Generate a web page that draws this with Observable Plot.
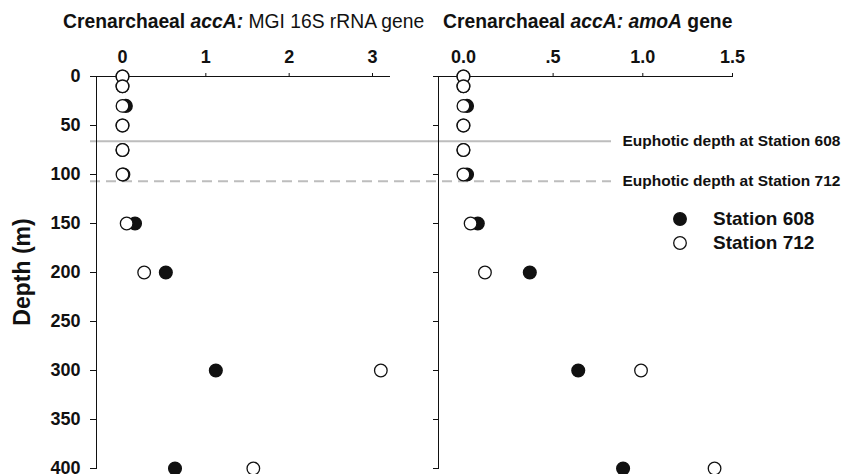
<!DOCTYPE html>
<html>
<head>
<meta charset="utf-8">
<script src="https://cdn.jsdelivr.net/npm/d3@7"></script>
<script src="https://cdn.jsdelivr.net/npm/@observablehq/plot@0.6"></script>
<style>
  body { margin: 0; background: white; font-family: "Liberation Sans", Arial, sans-serif; }
  #wrap { position: relative; width: 847px; height: 474px; overflow: hidden; }
  #wrap svg { position: absolute; left: 0; top: 0; }
  .title { position: absolute; top: 11px; font-size: 19.3px; font-weight: bold; color: #111; white-space: nowrap; }
  .title i { font-style: italic; }
  .ylab { position: absolute; left: 22px; top: 272px; transform: translate(-50%, -50%) rotate(-90deg); font-size: 23px; font-weight: bold; color: #111; white-space: nowrap; }
  .leg { position: absolute; font-size: 19px; font-weight: bold; color: #111; white-space: nowrap; }
</style>
</head>
<body>
<div id="wrap">
  <div class="title" style="left:63px">Crenarchaeal <i>accA:</i> <span style="font-weight:normal">MGI 16S rRNA gene</span></div>
  <div class="title" style="left:443px">Crenarchaeal <i>accA: amoA</i> gene</div>
  <div class="ylab">Depth (m)</div>
</div>
<script>
// ---- data ----
const depths = [0, 10, 30, 50, 75, 100, 150, 200, 300, 400];
const mgi608 = [0, 0, 0.04, 0, 0, 0.01, 0.15, 0.52, 1.12, 0.63];
const mgi712 = [0, 0, 0, 0, 0, 0, 0.05, 0.26, 3.10, 1.57];
const amoA608 = [0, 0, 0.02, 0, 0, 0.02, 0.08, 0.37, 0.64, 0.89];
const amoA712 = [0, 0, 0, 0, 0, 0, 0.04, 0.12, 0.99, 1.40];
const euphoticDepths = [66, 107];
const euphoticLabels = ["Euphotic depth at Station 608", "Euphotic depth at Station 712"];
const stations = ["Station 608", "Station 712"];
const depthTicks = [0, 50, 100, 150, 200, 250, 300, 350, 400];
const mgiTicks = [0, 1, 2, 3];
const amoATicks = [0, 0.5, 1.0, 1.5];

const rows = (vals) => depths.map((d, i) => ({depth: d, value: vals[i]}));
const ink = "#111";
const baseStyle = {background: "transparent", fontFamily: "'Liberation Sans', Arial, sans-serif", fontSize: "18px", fontWeight: "bold", color: ink, overflow: "visible"};
const wrap = document.getElementById("wrap");

const yScale = (showLabels) => ({domain: [0, 400], reverse: true, ticks: depthTicks, tickSize: showLabels ? 6 : 5, tickPadding: 10, line: true, label: null, tickFormat: showLabels ? d => d : () => ""});

const dotsFor = (filled, open) => [
  Plot.dot(rows(filled), {x: "value", y: "depth", r: 6.3, fill: ink, stroke: ink}),
  Plot.dot(rows(open), {x: "value", y: "depth", r: 6.3, fill: "white", stroke: ink, strokeWidth: 1.3})
];

// left panel
const left = Plot.plot({
  width: 847, height: 474,
  marginLeft: 96, marginRight: 458, marginTop: 76, marginBottom: 6,
  style: baseStyle,
  x: {domain: [-0.312, 3.204], axis: "top", ticks: mgiTicks, tickSize: 4, tickPadding: 10, line: true, label: null, tickFormat: d => d},
  y: yScale(true),
  marks: dotsFor(mgi608, mgi712)
});

// right panel
const right = Plot.plot({
  width: 847, height: 474,
  marginLeft: 438, marginRight: 115, marginTop: 76, marginBottom: 6,
  style: baseStyle,
  x: {domain: [-0.139, 1.5], axis: "top", ticks: amoATicks, tickSize: 4, tickPadding: 10, line: true, label: null, tickFormat: d => d === 0.5 ? ".5" : d.toFixed(1)},
  y: yScale(false),
  marks: dotsFor(amoA608, amoA712)
});

// overlay: euphotic depth lines and their labels
const euph = euphoticDepths.map((d, i) => ({depth: d, label: euphoticLabels[i], dashed: i === 1}));
const overlay = Plot.plot({
  width: 847, height: 474,
  marginLeft: 90, marginRight: 236, marginTop: 76, marginBottom: 6,
  style: {...baseStyle, fontSize: "15.5px"},
  x: {axis: null},
  y: {domain: [0, 400], reverse: true, axis: null},
  marks: [
    Plot.ruleY(euph.filter(d => !d.dashed), {y: "depth", stroke: "#bdbdbd", strokeWidth: 2}),
    Plot.ruleY(euph.filter(d => d.dashed), {y: "depth", stroke: "#bdbdbd", strokeWidth: 2, strokeDasharray: "10,6"}),
    Plot.text(euph, {y: "depth", text: "label", frameAnchor: "right", textAnchor: "start", dx: 11, fill: ink})
  ]
});

wrap.appendChild(overlay);
wrap.appendChild(left);
wrap.appendChild(right);

// legend
const legendY = [219, 243];
stations.forEach((s, i) => {
  const sw = d3.create("svg").attr("width", 16).attr("height", 16)
    .style("position", "absolute").style("left", "672px").style("top", (legendY[i] - 8) + "px");
  sw.append("circle").attr("cx", 8).attr("cy", 8).attr("r", 6.3)
    .attr("fill", i === 0 ? ink : "white").attr("stroke", ink).attr("stroke-width", 1.3);
  wrap.appendChild(sw.node());
  const t = document.createElement("div");
  t.className = "leg";
  t.textContent = s;
  t.style.left = "713px";
  t.style.top = (legendY[i] - 11) + "px";
  t.style.lineHeight = "22px";
  wrap.appendChild(t);
});
</script>
</body>
</html>
